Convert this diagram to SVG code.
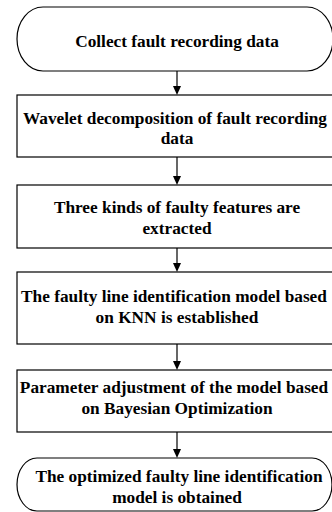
<svg xmlns="http://www.w3.org/2000/svg" width="332" height="512" viewBox="0 0 332 512">
<style>
.n{fill:#fff;stroke:#000;stroke-width:1.2}
.t{font-family:'Liberation Serif','Times New Roman',Times,serif;font-weight:700;font-size:17.3px;fill:#000;text-anchor:middle}
.c{stroke:#000;stroke-width:1.2;fill:none}
</style>
<rect width="332" height="512" fill="#fff"/>
<g id="n1"><rect class="n" x="17" y="7" width="316" height="64" rx="26" ry="32"/><text class="t" x="177" y="47" font-family="Liberation Serif">Collect fault recording data</text></g>
<g id="n2"><rect class="n" x="17" y="95" width="330" height="62"/><text class="t" x="175" y="124" font-family="Liberation Serif">Wavelet decomposition of fault recording</text><text class="t" x="177" y="144" font-family="Liberation Serif">data</text></g>
<g id="n3"><rect class="n" x="17" y="185" width="330" height="63"/><text class="t" x="177" y="212.5" font-family="Liberation Serif">Three kinds of faulty features are</text><text class="t" x="177" y="233.5" font-family="Liberation Serif">extracted</text></g>
<g id="n4"><rect class="n" x="17" y="272" width="330" height="72"/><text class="t" x="174" y="301.5" font-family="Liberation Serif">The faulty line identification model based</text><text class="t" x="177" y="323" font-family="Liberation Serif">on KNN is established</text></g>
<g id="n5"><rect class="n" x="17" y="370" width="330" height="62"/><text class="t" x="174" y="393" font-family="Liberation Serif">Parameter adjustment of the model based</text><text class="t" x="177" y="414" font-family="Liberation Serif">on Bayesian Optimization</text></g>
<g id="n6"><rect class="n" x="17" y="458" width="315" height="53" rx="20" ry="26.5"/><text class="t" x="179" y="481.5" font-family="Liberation Serif">The optimized faulty line identification</text><text class="t" x="177" y="503" font-family="Liberation Serif">model is obtained</text></g>
<g id="connectors">
<path class="c" d="M177,71 V87"/><path d="M173,86 L181,86 L177,95 Z"/>
<path class="c" d="M177,157 V177"/><path d="M173,176 L181,176 L177,185 Z"/>
<path class="c" d="M177,248 V264"/><path d="M173,263 L181,263 L177,272 Z"/>
<path class="c" d="M177,344 V362"/><path d="M173,361 L181,361 L177,370 Z"/>
<path class="c" d="M177,432 V450"/><path d="M173,449 L181,449 L177,458 Z"/>
</g>
</svg>
